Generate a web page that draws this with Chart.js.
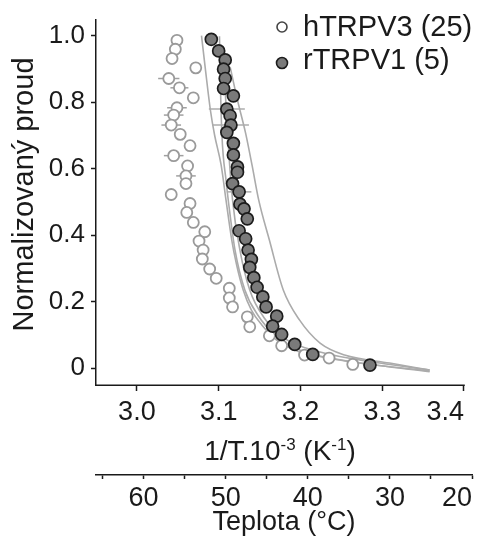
<!DOCTYPE html>
<html><head><meta charset="utf-8">
<script src="https://cdn.jsdelivr.net/npm/chart.js@4.4.0/dist/chart.umd.min.js"></script>
<style>html,body{margin:0;padding:0;background:#fff}</style>
</head><body>
<canvas id="c" width="484" height="540"></canvas>
<script>
const FONT = "'Liberation Sans', Arial, Helvetica, sans-serif";
const TEXT = '#1a1a1a';

// legend / series names
const seriesNames = ['hTRPV3 (25)', 'rTRPV1 (5)'];

// axis ticks
const xTickValues = [2.95, 3.0, 3.1, 3.2, 3.3, 3.4];   // first one is the axis corner (no label, no tick)
const yTickValues = [0, 0.2, 0.4, 0.6, 0.8, 1.0];
const tempTickValues = [20, 25, 30, 35, 40, 45, 50, 55, 60, 65];

// hTRPV3 (open circles): 1/T.10^-3, normalized current, horizontal error
const v3X = [3.049,3.047,3.043,3.072,3.039,3.052,3.069,3.049,3.045,3.042,3.053,3.065,3.045,3.062,3.060,3.060,3.042,3.065,3.061,3.069,3.083,3.076,3.081,3.080,3.089,3.097,3.113,3.113,3.117,3.135,3.138,3.162,3.177,3.205,3.235,3.264];
const v3Y = [0.986,0.959,0.931,0.903,0.871,0.843,0.813,0.783,0.761,0.731,0.703,0.669,0.639,0.608,0.578,0.555,0.522,0.495,0.468,0.438,0.410,0.382,0.355,0.328,0.298,0.270,0.240,0.211,0.184,0.154,0.124,0.097,0.067,0.039,0.030,0.011];
const v3Err = [0,0,0,0,0.013,0.011,0,0.012,0.012,0.012,0.006,0,0.012,0,0.012,0.005,0,0,0,0,0,0,0,0,0,0,0,0,0,0,0,0,0,0,0,0];

// rTRPV1 (filled circles)
const v1X = [3.091,3.100,3.108,3.106,3.108,3.106,3.118,3.110,3.114,3.115,3.110,3.118,3.118,3.123,3.123,3.117,3.125,3.126,3.131,3.135,3.125,3.133,3.136,3.140,3.138,3.143,3.147,3.154,3.158,3.171,3.166,3.177,3.193,3.215,3.285];
const v1Y = [0.989,0.954,0.927,0.899,0.871,0.841,0.819,0.779,0.759,0.731,0.709,0.676,0.641,0.605,0.589,0.555,0.530,0.493,0.479,0.449,0.413,0.389,0.355,0.327,0.303,0.272,0.243,0.214,0.184,0.156,0.126,0.101,0.071,0.041,0.009];
const v1Err = [0,0,0,0,0,0,0,0.022,0,0.022,0,0,0,0,0,0,0.015,0,0,0,0,0,0,0,0,0,0,0,0,0,0,0,0,0,0];

// fitted curves (grey lines)
const fit1X = [3.079,3.084,3.090,3.095,3.103,3.109,3.116,3.122,3.130,3.140,3.153,3.171,3.199,3.236,3.273,3.358];
const fit1Y = [1.000,0.894,0.774,0.701,0.611,0.505,0.385,0.310,0.235,0.174,0.129,0.084,0.048,0.030,0.015,-0.011];
const fit2X = [3.101,3.102,3.104,3.109,3.114,3.120,3.132,3.148,3.169,3.199,3.248,3.358];
const fit2Y = [0.998,0.866,0.701,0.565,0.460,0.355,0.235,0.159,0.099,0.054,0.024,-0.009];
const fit3X = [3.106,3.111,3.117,3.126,3.138,3.156,3.180,3.224,3.297,3.358];
const fit3Y = [0.926,0.701,0.505,0.355,0.235,0.150,0.090,0.048,0.015,-0.006];
const fit4X = [3.114,3.123,3.133,3.141,3.149,3.162,3.179,3.199,3.224,3.254,3.309,3.358];
const fit4Y = [0.906,0.806,0.706,0.608,0.505,0.385,0.235,0.144,0.075,0.039,0.015,-0.006];

const zip = (xs, ys) => xs.map((x, i) => ({x, y: ys[i]}));
const fits = [[fit1X, fit1Y], [fit2X, fit2Y], [fit3X, fit3Y], [fit4X, fit4Y]];

const errorBars = {
  id: 'errorBars',
  beforeDatasetsDraw(chart) {
    const {ctx, scales: {x, y}} = chart;
    const sets = [[v3X, v3Y, v3Err, '#a0a0a0'], [v1X, v1Y, v1Err, '#acacac']];
    ctx.save();
    ctx.lineWidth = 1.5;
    for (const [xs, ys, es, col] of sets) {
      ctx.strokeStyle = col;
      xs.forEach((xv, i) => {
        if (!es[i]) return;
        const py = y.getPixelForValue(ys[i]);
        ctx.beginPath();
        ctx.moveTo(x.getPixelForValue(xv - es[i]), py);
        ctx.lineTo(x.getPixelForValue(xv + es[i]), py);
        ctx.stroke();
      });
    }
    ctx.restore();
  }
};

const decorations = {
  id: 'decorations',
  afterDraw(chart) {
    const {ctx, scales: {x, y}, chartArea} = chart;
    ctx.save();
    // x axis line (from 2.95 to 3.4)
    ctx.strokeStyle = TEXT; ctx.lineWidth = 1.5;
    ctx.beginPath();
    ctx.moveTo(x.getPixelForValue(2.95), Math.round(chartArea.bottom) + 0.25);
    ctx.lineTo(x.getPixelForValue(3.4) + 0.75, Math.round(chartArea.bottom) + 0.25);
    ctx.stroke();

    ctx.fillStyle = TEXT;
    // x title with superscripts
    const big = `28px ${FONT}`, sup = `17px ${FONT}`;
    const parts = [['1/T.10', big, 0], ['-3', sup, -10], [' (K', big, 0], ['-1', sup, -10], [')', big, 0]];
    let w = 0;
    for (const [t, f] of parts) { ctx.font = f; w += ctx.measureText(t).width; }
    let cx = (x.getPixelForValue(2.95) + x.getPixelForValue(3.4)) / 2 - w / 2;
    const by = 460;
    ctx.textBaseline = 'alphabetic'; ctx.textAlign = 'left';
    for (const [t, f, dy] of parts) { ctx.font = f; ctx.fillText(t, cx, by + dy); cx += ctx.measureText(t).width; }

    // y title
    ctx.save();
    ctx.translate(33, (chartArea.top + chartArea.bottom) / 2 - 8);
    ctx.rotate(-Math.PI / 2);
    ctx.font = `29px ${FONT}`;
    ctx.textAlign = 'center';
    ctx.fillText('Normalizovaný proud', 0, 0);
    ctx.restore();

    // legend
    const lx = 282;
    ctx.lineWidth = 1.6;
    ctx.beginPath(); ctx.arc(lx, 27, 5, 0, Math.PI * 2);
    ctx.fillStyle = '#fff'; ctx.fill(); ctx.strokeStyle = '#444'; ctx.stroke();
    ctx.beginPath(); ctx.arc(lx, 63, 5.5, 0, Math.PI * 2);
    ctx.fillStyle = '#7a7a7a'; ctx.fill(); ctx.strokeStyle = '#1c1c1c'; ctx.stroke();
    ctx.fillStyle = TEXT;
    ctx.font = `29px ${FONT}`;
    ctx.textAlign = 'left'; ctx.textBaseline = 'alphabetic';
    ctx.fillText(seriesNames[0], 303, 36);
    ctx.fillText(seriesNames[1], 303, 69);
    ctx.restore();
  }
};

const datasets = [
  { label: seriesNames[1], data: zip(v1X, v1Y), showLine: false, pointRadius: 6, pointHoverRadius: 6,
    pointBackgroundColor: '#7a7a7a', pointBorderColor: '#1c1c1c', pointBorderWidth: 1.7, order: 0 },
  { label: seriesNames[0], data: zip(v3X, v3Y), showLine: false, pointRadius: 5.5, pointHoverRadius: 5.5,
    pointBackgroundColor: '#ffffff', pointBorderColor: '#9a9a9a', pointBorderWidth: 1.8, order: 1 },
  ...fits.map(([fx, fy], i) => ({ label: 'fit' + (i + 1), data: zip(fx, fy), showLine: true, pointRadius: 0,
    borderColor: '#ababab', borderWidth: 1.6, cubicInterpolationMode: 'monotone', fill: false, order: 2 }))
];

new Chart(document.getElementById('c'), {
  type: 'scatter',
  data: { datasets },
  options: {
    responsive: false, animation: false, devicePixelRatio: 1,
    layout: { padding: { top: 20, right: 12, left: 0, bottom: 0 } },
    plugins: { legend: { display: false }, tooltip: { enabled: false } },
    scales: {
      x: {
        type: 'linear', position: 'bottom', weight: 0,
        min: 2.95, max: 2.95 + 0.45 * 376 / 368,
        afterBuildTicks: s => { s.ticks = xTickValues.map(v => ({ value: v })); },
        afterFit: s => { s.height = 90; s.paddingLeft = 0; s.paddingRight = 0; },
        grid: { drawOnChartArea: false, tickLength: 6, tickWidth: 1.5,
                tickColor: c => c.index === 0 ? 'rgba(0,0,0,0)' : TEXT },
        border: { display: false },
        ticks: { align: 'inner', padding: 5, color: TEXT, font: { family: FONT, size: 27 },
                 autoSkip: false, maxRotation: 0,
                 callback: (v, i) => i === 0 ? '' : Number(v).toFixed(1) }
      },
      x2: {
        type: 'linear', position: 'bottom', weight: 1, reverse: true,
        min: 20, max: 65.8,
        afterBuildTicks: s => { s.ticks = tempTickValues.map(v => ({ value: v })); },
        afterFit: s => { s.height = 65; s.paddingLeft = 0; s.paddingRight = 0; },
        grid: { drawOnChartArea: false, tickLength: 4, tickWidth: 1.5, tickColor: TEXT },
        border: { display: true, color: TEXT, width: 1.5 },
        ticks: { align: 'inner', padding: 3, color: TEXT, font: { family: FONT, size: 27 },
                 autoSkip: false, maxRotation: 0,
                 callback: v => v % 10 === 0 ? String(v) : '' },
        title: { display: true, text: 'Teplota (°C)', color: TEXT, font: { family: FONT, size: 27 },
                 padding: { top: 0, bottom: 1 } }
      },
      y: {
        type: 'linear', position: 'left',
        min: -0.051, max: 1.047,
        afterBuildTicks: s => { s.ticks = yTickValues.map(v => ({ value: v })); },
        afterFit: s => { s.width = 96; s.paddingTop = 0; s.paddingBottom = 0; },
        grid: { drawOnChartArea: false, tickLength: 5, tickWidth: 1.5, tickColor: TEXT },
        border: { display: true, color: TEXT, width: 1.5 },
        ticks: { padding: 6, color: TEXT, font: { family: FONT, size: 26 },
                 callback: v => v === 0 ? '0' : Number(v).toFixed(1) }
      }
    }
  },
  plugins: [errorBars, decorations]
});
</script>
</body></html>
